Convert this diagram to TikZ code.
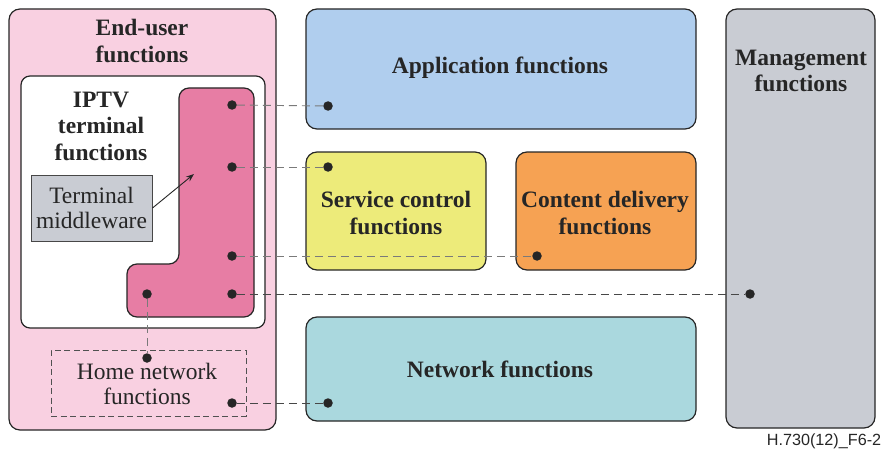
\documentclass[tikz,border=0pt]{standalone}
\usepackage{fontspec}
\setmainfont{Liberation Serif}
\setsansfont{Liberation Sans}
\usetikzlibrary{arrows.meta}
\definecolor{ink}{HTML}{262626}
\definecolor{enduser}{HTML}{F9D0E1}
\definecolor{iptvpink}{HTML}{E77DA4}
\definecolor{appblue}{HTML}{B0CEEE}
\definecolor{svcyellow}{HTML}{EDEB7A}
\definecolor{cdorange}{HTML}{F6A253}
\definecolor{netcyan}{HTML}{AAD8DE}
\definecolor{mgmtgray}{HTML}{C9CCD3}
\definecolor{dashgray}{HTML}{7A7A7A}
\tikzset{
  panel/.style={draw=ink, line width=1.2pt, rounded corners=11pt},
  boldlabel/.style={text=ink, align=center, font=\fontsize{23.5}{26.5}\selectfont\bfseries},
  plainlabel/.style={text=ink, align=center, font=\fontsize{23.5}{25}\selectfont},
  dot/.style={circle, fill=ink, inner sep=0pt, minimum size=9.5pt},
  link/.style={draw=dashgray, line width=0.95pt, dash pattern=on 8pt off 5pt},
  darklink/.style={link, draw=ink!85},
}
\begin{document}
\begin{tikzpicture}[x=1pt, y=-1pt]
\useasboundingbox (0,0) rectangle (884,452);

% End-user domain
\draw[panel, fill=enduser] (9,9) rectangle (276,430);
\node[boldlabel] (eu) at (142,41) {End-user\\functions};
\draw[draw=ink, line width=1.2pt, fill=white, rounded corners=9pt] (21,76) rectangle (265,328);
\node[boldlabel] (iptv) at (101,126) {IPTV\\terminal\\functions};

% L-shaped terminal block
\draw[draw=ink, line width=1.2pt, fill=iptvpink, rounded corners=10pt]
  (179,88) -- (254,88) -- (254,317) -- (127,317) -- (127,264) -- (179,264) -- cycle;
\coordinate (lmid) at (194,174);

\node[draw=ink!85, line width=1pt, fill=mgmtgray, minimum width=121pt, minimum height=66pt,
      inner sep=0pt, plainlabel] (mw) at (91.5,208) {Terminal\\middleware};
\draw[ink, line width=0.9pt, -{Stealth[length=8pt,width=6pt]}] (mw.east) -- (lmid);

% Home network (dashed)
\node[draw=ink!80, line width=1pt, dash pattern=on 6pt off 3.5pt, minimum width=195pt,
      minimum height=66pt] (home) at (148.5,383) {};
\node[plainlabel] (homet) at (147,384) {Home network\\functions};

% Provider-side domains
\draw[panel, fill=appblue] (306,9) rectangle (696,129);
\node[boldlabel] (app) at (500,68) {Application functions};
\draw[panel, fill=svcyellow] (306,152) rectangle (486,270);
\node[boldlabel] (svc) at (396,213) {Service control\\functions};
\draw[panel, fill=cdorange] (516,152) rectangle (696,270);
\node[boldlabel] (cd) at (605,213) {Content delivery\\functions};
\draw[panel, fill=netcyan] (306,317) rectangle (696,421);
\node[boldlabel] (net) at (500,369) {Network functions};
\draw[panel, fill=mgmtgray] (726,9) rectangle (875,428);
\node[boldlabel] (mgmt) at (801,71) {Management\\functions};

% Reference points
\node[dot] (t1) at (232,105) {};
\node[dot] (t2) at (232,167) {};
\node[dot] (t3) at (232,256) {};
\node[dot] (t4) at (232,294) {};
\node[dot] (t5) at (147,294) {};
\node[dot] (h1) at (147,358) {};
\node[dot] (h2) at (232,403) {};
\node[dot] (pa) at (328,106) {};
\node[dot] (ps) at (328,167) {};
\node[dot] (pc) at (537,256) {};
\node[dot] (pm) at (750,294) {};
\node[dot] (pn) at (328,403) {};

% Connections
\draw[link] (t1) -- (pa);
\draw[link] (t2) -- (ps);
\draw[link] (t3) -- (pc);
\draw[darklink] (t4) -- (pm);
\draw[link] (t5) -- (h1);
\draw[darklink] (h2) -- (pn);

\node[text=ink, font=\sffamily\fontsize{16.2}{19}\selectfont] (fig) at (824,441) {H.730(12)\_F6-2};
\end{tikzpicture}
\end{document}
